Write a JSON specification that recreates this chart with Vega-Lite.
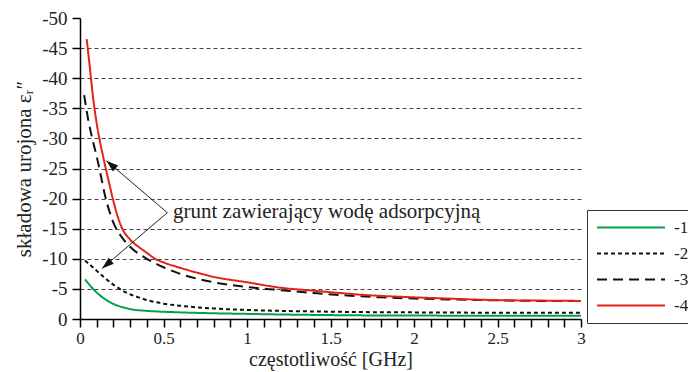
{
  "$schema": "https://vega.github.io/schema/vega-lite/v6.json",
  "autosize": {"type": "none"},
  "padding": {"left": 80, "top": 18, "right": 107, "bottom": 53},
  "width": 501,
  "height": 301,
  "background": "white",
  "config": {
    "view": {"stroke": null},
    "font": "Liberation Serif, serif",
    "axis": {
      "domainColor": "black",
      "domainWidth": 1.5,
      "tickColor": "black",
      "tickWidth": 1.5,
      "tickSize": 8,
      "labelFont": "Liberation Serif, serif",
      "labelColor": "#222",
      "titleFont": "Liberation Serif, serif",
      "titleColor": "#222",
      "titleFontWeight": "normal"
    },
    "legend": {
      "orient": "none",
      "legendX": 507,
      "legendY": 192,
      "symbolType": "stroke",
      "symbolSize": 4624,
      "symbolStrokeWidth": 2,
      "clipHeight": 17,
      "labelFont": "Liberation Serif, serif",
      "labelFontSize": 17,
      "labelColor": "#222",
      "labelOffset": 8,
      "strokeColor": "#333",
      "fillColor": "white",
      "padding": 9,
      "rowPadding": 8
    }
  },
  "datasets": {
    "curves": [
      {"f": 0.03, "v": -6.6, "series": "-1"},
      {"f": 0.05, "v": -5.9, "series": "-1"},
      {"f": 0.075, "v": -5.1, "series": "-1"},
      {"f": 0.1, "v": -4.4, "series": "-1"},
      {"f": 0.125, "v": -3.8, "series": "-1"},
      {"f": 0.15, "v": -3.3, "series": "-1"},
      {"f": 0.2, "v": -2.5, "series": "-1"},
      {"f": 0.25, "v": -2.0, "series": "-1"},
      {"f": 0.3, "v": -1.65, "series": "-1"},
      {"f": 0.4, "v": -1.35, "series": "-1"},
      {"f": 0.5, "v": -1.2, "series": "-1"},
      {"f": 0.6, "v": -1.1, "series": "-1"},
      {"f": 0.8, "v": -0.95, "series": "-1"},
      {"f": 1.0, "v": -0.85, "series": "-1"},
      {"f": 1.2, "v": -0.75, "series": "-1"},
      {"f": 1.4, "v": -0.68, "series": "-1"},
      {"f": 1.7, "v": -0.6, "series": "-1"},
      {"f": 2.0, "v": -0.57, "series": "-1"},
      {"f": 2.5, "v": -0.55, "series": "-1"},
      {"f": 3.0, "v": -0.55, "series": "-1"},

      {"f": 0.03, "v": -9.7, "series": "-2"},
      {"f": 0.06, "v": -9.0, "series": "-2"},
      {"f": 0.1, "v": -8.0, "series": "-2"},
      {"f": 0.15, "v": -6.8, "series": "-2"},
      {"f": 0.2, "v": -5.7, "series": "-2"},
      {"f": 0.25, "v": -4.8, "series": "-2"},
      {"f": 0.3, "v": -4.1, "series": "-2"},
      {"f": 0.35, "v": -3.6, "series": "-2"},
      {"f": 0.4, "v": -3.15, "series": "-2"},
      {"f": 0.5, "v": -2.55, "series": "-2"},
      {"f": 0.6, "v": -2.2, "series": "-2"},
      {"f": 0.8, "v": -1.75, "series": "-2"},
      {"f": 1.0, "v": -1.5, "series": "-2"},
      {"f": 1.2, "v": -1.35, "series": "-2"},
      {"f": 1.4, "v": -1.25, "series": "-2"},
      {"f": 1.7, "v": -1.15, "series": "-2"},
      {"f": 2.0, "v": -1.1, "series": "-2"},
      {"f": 2.5, "v": -1.05, "series": "-2"},
      {"f": 3.0, "v": -1.05, "series": "-2"},

      {"f": 0.025, "v": -37.2, "series": "-3"},
      {"f": 0.05, "v": -33.0, "series": "-3"},
      {"f": 0.075, "v": -29.8, "series": "-3"},
      {"f": 0.1, "v": -27.0, "series": "-3"},
      {"f": 0.125, "v": -23.8, "series": "-3"},
      {"f": 0.15, "v": -20.5, "series": "-3"},
      {"f": 0.175, "v": -18.0, "series": "-3"},
      {"f": 0.2, "v": -16.0, "series": "-3"},
      {"f": 0.25, "v": -13.6, "series": "-3"},
      {"f": 0.3, "v": -12.0, "series": "-3"},
      {"f": 0.4, "v": -10.0, "series": "-3"},
      {"f": 0.5, "v": -8.6, "series": "-3"},
      {"f": 0.6, "v": -7.5, "series": "-3"},
      {"f": 0.7, "v": -6.7, "series": "-3"},
      {"f": 0.8, "v": -6.1, "series": "-3"},
      {"f": 1.0, "v": -5.3, "series": "-3"},
      {"f": 1.2, "v": -4.8, "series": "-3"},
      {"f": 1.4, "v": -4.3, "series": "-3"},
      {"f": 1.6, "v": -3.9, "series": "-3"},
      {"f": 1.8, "v": -3.6, "series": "-3"},
      {"f": 2.0, "v": -3.4, "series": "-3"},
      {"f": 2.2, "v": -3.25, "series": "-3"},
      {"f": 2.4, "v": -3.15, "series": "-3"},
      {"f": 2.6, "v": -3.05, "series": "-3"},
      {"f": 2.8, "v": -3.0, "series": "-3"},
      {"f": 3.0, "v": -3.0, "series": "-3"},

      {"f": 0.04, "v": -46.5, "series": "-4"},
      {"f": 0.06, "v": -41.5, "series": "-4"},
      {"f": 0.08, "v": -36.4, "series": "-4"},
      {"f": 0.1, "v": -32.5, "series": "-4"},
      {"f": 0.118, "v": -29.7, "series": "-4"},
      {"f": 0.14, "v": -26.8, "series": "-4"},
      {"f": 0.16, "v": -24.3, "series": "-4"},
      {"f": 0.18, "v": -21.9, "series": "-4"},
      {"f": 0.2, "v": -19.6, "series": "-4"},
      {"f": 0.225, "v": -17.1, "series": "-4"},
      {"f": 0.25, "v": -15.2, "series": "-4"},
      {"f": 0.3, "v": -13.2, "series": "-4"},
      {"f": 0.35, "v": -12.0, "series": "-4"},
      {"f": 0.4, "v": -11.0, "series": "-4"},
      {"f": 0.45, "v": -10.0, "series": "-4"},
      {"f": 0.5, "v": -9.4, "series": "-4"},
      {"f": 0.6, "v": -8.5, "series": "-4"},
      {"f": 0.7, "v": -7.7, "series": "-4"},
      {"f": 0.8, "v": -7.0, "series": "-4"},
      {"f": 1.0, "v": -6.1, "series": "-4"},
      {"f": 1.2, "v": -5.2, "series": "-4"},
      {"f": 1.4, "v": -4.7, "series": "-4"},
      {"f": 1.7, "v": -4.0, "series": "-4"},
      {"f": 2.0, "v": -3.6, "series": "-4"},
      {"f": 2.2, "v": -3.4, "series": "-4"},
      {"f": 2.4, "v": -3.2, "series": "-4"},
      {"f": 2.6, "v": -3.1, "series": "-4"},
      {"f": 2.8, "v": -3.05, "series": "-4"},
      {"f": 3.0, "v": -3.0, "series": "-4"}
    ],
    "callout": [
      {"target": "upper", "f": 0.158, "v": -26.3, "f2": 0.523, "v2": -17.66},
      {"target": "lower", "f": 0.132, "v": -8.4, "f2": 0.523, "v2": -17.66}
    ],
    "note": [
      {"f": 0.557, "v": -17.7, "text": "grunt zawierający wodę adsorpcyjną"}
    ]
  },
  "encoding": {
    "x": {
      "field": "f",
      "type": "quantitative",
      "scale": {"domain": [0, 3], "nice": false, "zero": false},
      "axis": {
        "title": "częstotliwość [GHz]",
        "titleFontSize": 20,
        "titlePadding": 3,
        "values": [0, 0.1, 0.2, 0.3, 0.4, 0.5, 0.6, 0.7, 0.8, 0.9, 1, 1.1, 1.2, 1.3, 1.4, 1.5, 1.6, 1.7, 1.8, 1.9, 2, 2.1, 2.2, 2.3, 2.4, 2.5, 2.6, 2.7, 2.8, 2.9, 3],
        "labelExpr": "abs(datum.value * 2 - round(datum.value * 2)) < 0.000001 ? toString(round(datum.value * 2) / 2) : ''",
        "labelFontSize": 17,
        "labelPadding": 3,
        "labelFlush": false,
        "labelOverlap": false,
        "grid": false
      }
    },
    "y": {
      "field": "v",
      "type": "quantitative",
      "scale": {"domain": [0, -50], "nice": false, "zero": false},
      "axis": {
        "title": "składowa urojona εᵣ″",
        "titleFontSize": 21,
        "titlePadding": 7,
        "values": [-50, -45, -40, -35, -30, -25, -20, -15, -10, -5, 0],
        "labelExpr": "toString(datum.value)",
        "labelFontSize": 19,
        "labelPadding": 5,
        "labelFlush": false,
        "labelOverlap": false,
        "grid": true,
        "gridColor": {"condition": {"test": "datum.value == -50 || datum.value == 0", "value": "transparent"}, "value": "#444"},
        "gridDash": [4, 3],
        "gridWidth": 1
      }
    }
  },
  "layer": [
    {
      "data": {"name": "curves"},
      "mark": {"type": "line", "strokeWidth": 2, "interpolate": "monotone", "clip": true},
      "encoding": {
        "color": {
          "field": "series",
          "type": "nominal",
          "scale": {"domain": ["-1", "-2", "-3", "-4"], "range": ["#00a14b", "#111111", "#111111", "#e3231b"]},
          "legend": {"title": null}
        },
        "strokeDash": {
          "field": "series",
          "type": "nominal",
          "scale": {"domain": ["-1", "-2", "-3", "-4"], "range": [[1, 0], [4, 3], [10, 6], [1, 0]]},
          "legend": {"title": null}
        }
      }
    },
    {
      "data": {"name": "callout"},
      "mark": {"type": "rule", "color": "#222", "strokeWidth": 1},
      "encoding": {
        "x2": {"field": "f2"},
        "y2": {"field": "v2"}
      }
    },
    {
      "data": {"name": "callout"},
      "transform": [{"filter": "datum.target == 'upper'"}],
      "mark": {"type": "point", "shape": "M0,0L-0.33,1L0.33,1Z", "filled": true, "color": "#111", "size": 576, "angle": 310.4, "opacity": 1},
      "encoding": {}
    },
    {
      "data": {"name": "callout"},
      "transform": [{"filter": "datum.target == 'lower'"}],
      "mark": {"type": "point", "shape": "M0,0L-0.33,1L0.33,1Z", "filled": true, "color": "#111", "size": 576, "angle": 229.6, "opacity": 1},
      "encoding": {}
    },
    {
      "data": {"name": "note"},
      "mark": {"type": "text", "align": "left", "baseline": "middle", "font": "Liberation Serif, serif", "fontSize": 21, "color": "#222"},
      "encoding": {
        "text": {"field": "text"}
      }
    }
  ]
}
